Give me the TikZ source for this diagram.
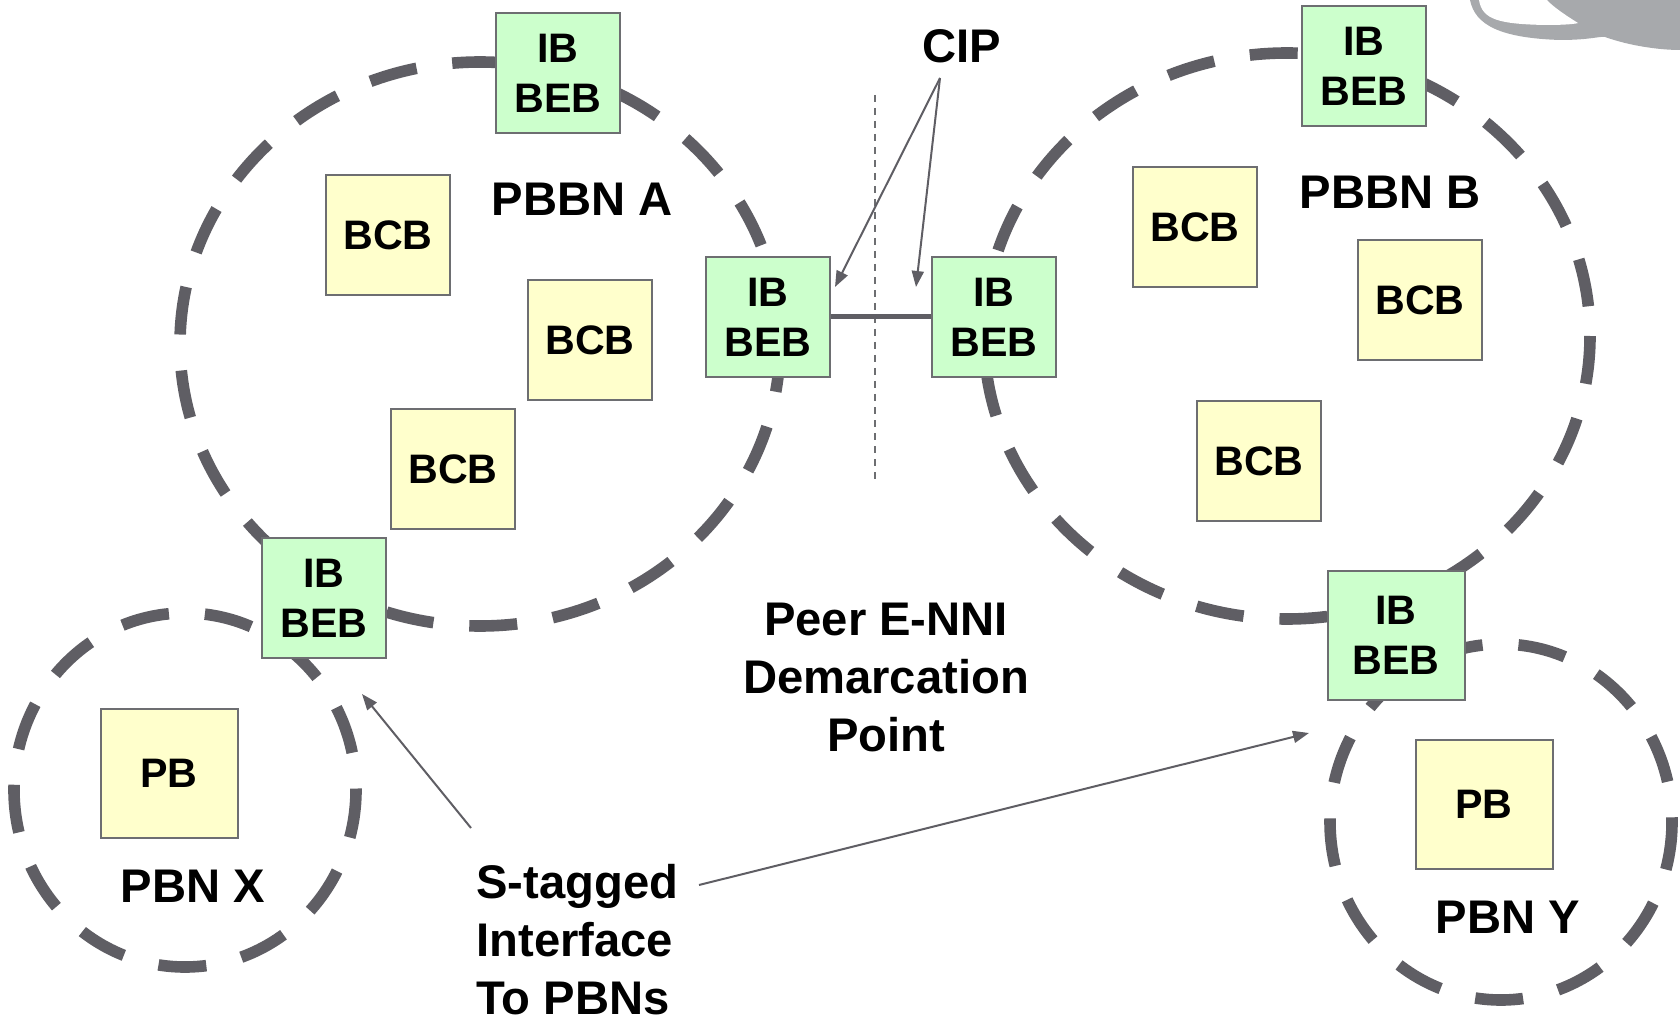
\documentclass[tikz,border=0pt]{standalone}
\usepackage{fontspec}
\setmainfont{Liberation Sans}
\usepackage{xcolor}
\usepackage{tikz}
\usetikzlibrary{positioning, arrows.meta}

\definecolor{ringgray}{HTML}{5F5E64}
\definecolor{boxline}{HTML}{6D6E71}
\definecolor{bebgreen}{HTML}{CCFFCC}
\definecolor{bcbyellow}{HTML}{FFFFCC}
\definecolor{logogray}{HTML}{A7A9AC}

\begin{document}
\begin{tikzpicture}[x=0.5pt, y=-0.5pt,
    netring/.style={draw=ringgray, line width=5.8pt, dash pattern=on 24pt off 18pt},
    bebbox/.style={draw=boxline, line width=1pt, fill=bebgreen, minimum width=62pt, minimum height=60pt,
      inner sep=0pt, align=center, font=\fontsize{20.6}{25}\selectfont\bfseries},
    bcbbox/.style={bebbox, fill=bcbyellow},
    bigbox/.style={minimum width=68.5pt, minimum height=64.5pt},
    lbl/.style={font=\fontsize{23.6}{29}\selectfont\bfseries, align=center, inner sep=0pt},
    pointer/.style={draw=ringgray, line width=1pt, -{Triangle[length=8pt,width=6pt]}}]
    \useasboundingbox (0,0) rectangle (1680,1021);

    % logo corner
    \fill[logogray] (1470,0) .. controls (1475,25) and (1500,38) .. (1560,40)
      .. controls (1590,40) and (1600,36) .. (1605,37)
      .. controls (1630,46) and (1660,50) .. (1680,50) -- (1680,0) -- cycle;
    \fill[white] (1479,0) .. controls (1482,20) and (1500,24) .. (1545,25)
      .. controls (1565,25) and (1575,24) .. (1578,23)
      .. controls (1565,15) and (1552,6) .. (1547,0) -- cycle;

    % network clouds
    \draw[netring] (480,344) ellipse [x radius=300, y radius=282];
    \draw[netring] (1287,336) ellipse [x radius=303, y radius=283];
    \draw[netring] (185,790) ellipse [x radius=171, y radius=177];
    \draw[netring] (1501,822) ellipse [x radius=171, y radius=178];

    % demarcation
    \coordinate (demtop) at (875,95);
    \coordinate (dembot) at (875,480);
    \draw[boxline, line width=0.75pt, dash pattern=on 3.5pt off 3pt] (demtop) -- (dembot);

    % bridges
    \node[bebbox] (ebAtop) at (558,73) {IB\\BEB};
    \node[bcbbox] (bcbA1) at (388,235) {BCB};
    \node[bcbbox] (bcbA2) at (590,340) {BCB};
    \node[bcbbox] (bcbA3) at (453,469) {BCB};
    \node[bebbox] (ebAx) at (324,598) {IB\\BEB};
    \node[bebbox] (ebAr) at (768,317) {IB\\BEB};
    \node[bebbox] (ebBl) at (994,317) {IB\\BEB};
    \node[bebbox] (ebBtop) at (1364,66) {IB\\BEB};
    \node[bcbbox] (bcbB1) at (1195,227) {BCB};
    \node[bcbbox] (bcbB2) at (1420,300) {BCB};
    \node[bcbbox] (bcbB3) at (1259,461) {BCB};
    \node[bebbox, bigbox] (ebBy) at (1396,635) {IB\\BEB};
    \node[bcbbox, bigbox] (pbX) at (169,773) {PB};
    \node[bcbbox, bigbox] (pbY) at (1484,804) {PB};

    \draw[draw=ringgray, line width=2.5pt] (ebAr.east) -- (ebBl.west);

    % labels
    \node[lbl] (cip) at (962,46) {CIP};
    \node[lbl] (pbbnA) at (582,199) {PBBN A};
    \node[lbl] (pbbnB) at (1390,192) {PBBN B};
    \node[lbl] (enni) at (886,677) {Peer E-NNI\\Demarcation\\Point};
    \node[lbl] (pbnX) at (193,886) {PBN X};
    \node[lbl] (pbnY) at (1508,917) {PBN Y};
    \node[lbl, align=left, anchor=west] (stag) at (476,940) {S-tagged\\Interface\\To PBNs};

    % pointers
    \coordinate (cipfoot) at (940,78);
    \coordinate (cipL) at (835,287);
    \coordinate (cipR) at (916,287);
    \draw[pointer] (cipfoot) -- (cipL);
    \draw[pointer] (cipfoot) -- (cipR);
    \coordinate (stagA) at (471,828);
    \coordinate (stagB) at (699,885);
    \coordinate (tipX) at (362,694);
    \coordinate (tipY) at (1309,733);
    \draw[pointer] (stagA) -- (tipX);
    \draw[pointer] (stagB) -- (tipY);
\end{tikzpicture}
\end{document}
